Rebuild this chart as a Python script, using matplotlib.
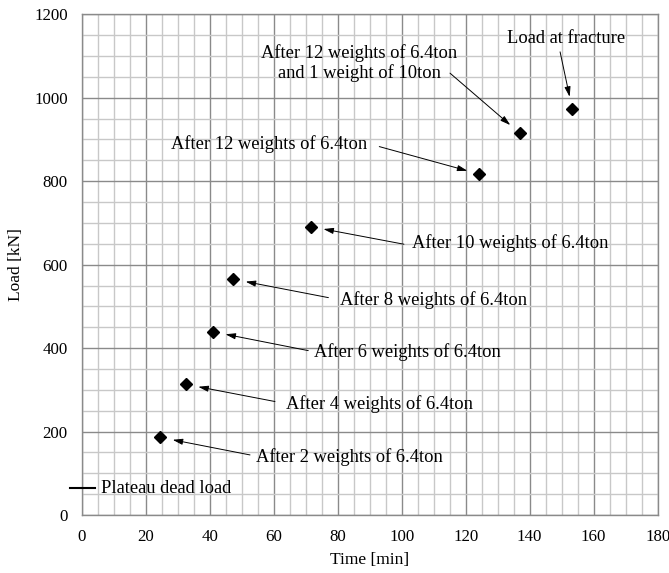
import matplotlib
matplotlib.use("Agg")
import matplotlib.pyplot as plt
from matplotlib.ticker import MultipleLocator

plt.rcParams['font.family'] = ['Liberation Serif', 'DejaVu Serif']

# Data
time_min = [24.6, 32.6, 41.1, 47.4, 71.7, 124.3, 136.9, 153.3]
load_kn = [186, 313, 439, 565, 691, 817, 915, 973]
labels = [
    "After 2 weights of 6.4ton",
    "After 4 weights of 6.4ton",
    "After 6 weights of 6.4ton",
    "After 8 weights of 6.4ton",
    "After 10 weights of 6.4ton",
    "After 12 weights of 6.4ton",
    "After 12 weights of 6.4ton\nand 1 weight of 10ton",
    "Load at fracture",
]
plateau_load = 64
plateau_label = "Plateau dead load"
x_ticks = [0, 20, 40, 60, 80, 100, 120, 140, 160, 180]
y_ticks = [0, 200, 400, 600, 800, 1000, 1200]

# Layout (label positions and arrow starts, data coords)
label_pos = [(54.5, 139), (63.8, 266), (72.7, 391), (80.7, 515),
             (103.3, 651), (89.3, 889), (86.7, 1083), (151.3, 1141)]
label_ha = ['left', 'left', 'left', 'left', 'left', 'right', 'center', 'center']
arrow_from = [(52.6, 144), (60.4, 272), (70.8, 394), (77.1, 521),
              (100.7, 649), (93.0, 883), (115.1, 1059), (149.5, 1110)]

fig = plt.figure(figsize=(6.69, 5.73), dpi=100)
ax = fig.add_axes([0.1221, 0.1012, 0.8610, 0.8738])

ax.set_xlim(0, 180)
ax.set_ylim(0, 1200)
ax.set_xticks(x_ticks)
ax.set_yticks(y_ticks)
ax.xaxis.set_minor_locator(MultipleLocator(5))
ax.yaxis.set_minor_locator(MultipleLocator(50))
ax.grid(which='minor', color='#c8c8c8', lw=1.0)
ax.grid(which='major', color='#8a8a8a', lw=1.0)
ax.set_axisbelow(True)
for s in ax.spines.values():
    s.set_color('#8a8a8a')
    s.set_linewidth(1.0)
ax.tick_params(which='both', length=0, labelsize=12.2, pad=10)
ax.set_xlabel("Time [min]", fontsize=12.5, labelpad=5)
ax.set_ylabel("Load [kN]", fontsize=12.5, labelpad=7)

ax.plot(time_min, load_kn, linestyle='none', marker='D', markersize=6,
        color='black', zorder=5)

for (x, y), lab, (tx, ty), ha, (ax0, ay0) in zip(zip(time_min, load_kn), labels,
                                                  label_pos, label_ha, arrow_from):
    ax.text(tx, ty, lab, ha=ha, va='center', fontsize=13.3, linespacing=1.15)
    ax.annotate('', xy=(x, y), xytext=(ax0, ay0),
                arrowprops=dict(arrowstyle='-|>,head_length=0.6,head_width=0.18',
                                color='black', lw=0.7, shrinkA=0, shrinkB=9))

ax.plot([-3.6, 4.2], [plateau_load, plateau_load], color='black', lw=1.5,
        clip_on=False, zorder=5)
ax.text(6.1, plateau_load, plateau_label, ha='left', va='center', fontsize=13.3)

fig.savefig("out.png", dpi=100)
